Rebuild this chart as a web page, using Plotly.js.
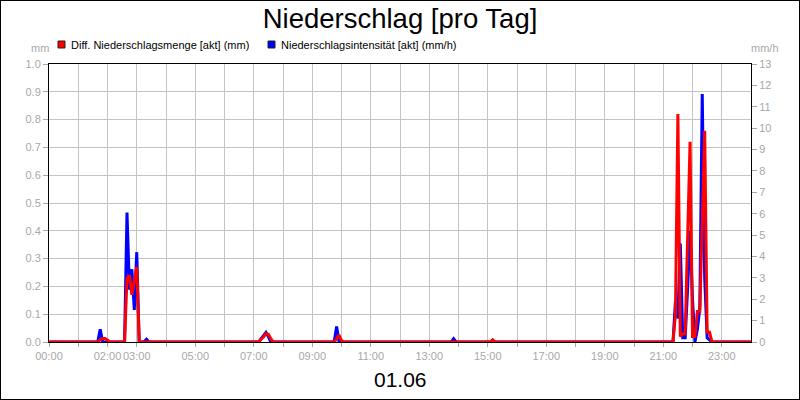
<!DOCTYPE html>
<html>
<head>
<meta charset="utf-8">
<script src="https://cdn.plot.ly/plotly-3.0.1.min.js"></script>
<style>
  html, body { margin: 0; padding: 0; background: #fff; }
  #wrap { position: relative; width: 800px; height: 400px; }
  #chart { width: 800px; height: 400px; }
  #frame { position: absolute; left: 0; top: 0; width: 800px; height: 400px; box-sizing: border-box; border: 1px solid #000; pointer-events: none; }
</style>
</head>
<body>
<div id="wrap"><div id="chart"></div><div id="frame"></div></div>
<script>
// Diff. Niederschlagsmenge [akt] (mm) - left axis
const redTimes = ["00:00","01:40","01:45","01:50","01:55","02:00","02:05","02:35","02:40","02:45","02:50","02:55","03:00","03:05",
  "07:10","07:15","07:20","07:25","07:30","07:35","07:40",
  "09:45","09:50","09:55","10:00","10:05",
  "15:05","15:10","15:15",
  "21:20","21:25","21:30","21:35","21:40","21:45","21:50","21:55","22:00","22:05","22:10","22:15","22:20","22:25","22:30","22:35","22:40","24:00"];
const redValues = [0,0,0.008,0.013,0.013,0.006,0,0,0.23,0.24,0.17,0.22,0.27,0,
  0,0.01,0.018,0.03,0.028,0.012,0,
  0,0.015,0.025,0.005,0,
  0,0.008,0,
  0,0.1,0.82,0.02,0.03,0.03,0.36,0.72,0.02,0.02,0.11,0.11,0.43,0.76,0.035,0.035,0,0];

// Niederschlagsintensität [akt] (mm/h) - right axis
const blueTimes = ["00:00","01:40","01:45","01:50","02:35","02:40","02:45","02:50","02:55","03:00","03:05","03:15","03:20","03:25",
  "07:10","07:15","07:20","07:25","07:30","07:35",
  "09:45","09:50","09:55",
  "13:45","13:50","13:55",
  "21:20","21:25","21:30","21:35","21:40","21:45","21:50","21:55","22:00","22:05","22:10","22:15","22:20","22:25","22:30","22:35","22:40","24:00"];
const blueValues = [0,0,0.6,0,0,6.05,2.45,3.4,1.5,4.2,0,0,0.13,0,
  0,0.15,0.3,0.45,0.25,0,
  0,0.72,0,
  0,0.15,0,
  0,1.9,1.1,4.6,0.2,0.2,2.5,5.2,2.0,0,0.6,1.6,11.6,3,0.2,0.1,0,0];

const hourTicks = [0,1,2,3,4,5,6,7,8,9,10,11,12,13,14,15,16,17,18,19,20,21,22,23];
const hourLabels = ["00:00","","02:00","03:00","","05:00","","07:00","","09:00","","11:00","","13:00","","15:00","","17:00","","19:00","","21:00","","23:00"];

const redName = "Diff. Niederschlagsmenge [akt] (mm)";
const blueName = "Niederschlagsintensität [akt] (mm/h)";
const titleText = "Niederschlag [pro Tag]";
const dateText = "01.06";

function toHours(s) { const p = s.split(":"); return Number(p[0]) + Number(p[1]) / 60; }

const FONT = "Arial, 'Liberation Sans', sans-serif";
const GRAY = "#a8a8a8";

// blue on the base axis (right side), red on the overlay axis (left side) so red is drawn on top
const traces = [
  { x: blueTimes.map(toHours), y: blueValues, yaxis: "y", type: "scatter", mode: "lines",
    line: { color: "#0000ff", width: 3 }, name: blueName, showlegend: false, hoverinfo: "skip" },
  { x: redTimes.map(toHours), y: redValues, yaxis: "y2", type: "scatter", mode: "lines",
    line: { color: "#ff0000", width: 3 }, name: redName, showlegend: false, hoverinfo: "skip" }
];

const W = 702, H = 278, L = 49, T = 64;
const px = v => (v - L) / W;
const py = v => (T + H - v) / H;

const layout = {
  width: 800, height: 400,
  margin: { l: 49, r: 49, t: 64, b: 58 },
  paper_bgcolor: "#fff", plot_bgcolor: "#fff",
  font: { family: FONT, size: 11, color: "#000" },
  title: { text: titleText, font: { family: FONT, size: 27.5, color: "#000" }, x: 0.5, xanchor: "center", yref: "container", y: 0.955, yanchor: "middle" },
  showlegend: false,
  xaxis: {
    range: [0, 24], tickmode: "array", tickvals: hourTicks, ticktext: hourLabels, tickangle: 0,
    showgrid: true, gridcolor: "#c4c4c4", gridwidth: 1,
    ticks: "outside", ticklen: 4, tickcolor: GRAY, tickfont: { family: FONT, size: 11, color: GRAY },
    showline: true, linecolor: "#000", linewidth: 1, mirror: true, zeroline: false, fixedrange: true
  },
  yaxis: {
    range: [0, 13], dtick: 1, tick0: 0, side: "right",
    showgrid: false, zeroline: false,
    showline: true, linecolor: "#000", linewidth: 1, mirror: true,
    ticks: "outside", ticklen: 5, tickcolor: GRAY, tickfont: { family: FONT, size: 11, color: GRAY }, fixedrange: true
  },
  yaxis2: {
    range: [0, 1], dtick: 0.1, tick0: 0, tickformat: ".1f", overlaying: "y", side: "left",
    showgrid: true, gridcolor: "#c4c4c4", gridwidth: 1,
    ticks: "outside", ticklen: 5, tickcolor: GRAY, tickfont: { family: FONT, size: 11, color: GRAY },
    showline: false, zeroline: false, fixedrange: true
  },
  shapes: [
    { type: "rect", xref: "paper", yref: "paper", x0: px(58), x1: px(65), y0: py(48), y1: py(41), fillcolor: "#ff0000", line: { color: "#222", width: 1 } },
    { type: "rect", xref: "paper", yref: "paper", x0: px(268), x1: px(275), y0: py(48), y1: py(41), fillcolor: "#0000ff", line: { color: "#222", width: 1 } }
  ],
  annotations: [
    { text: redName, xref: "paper", yref: "paper", x: px(69), y: py(44.5), xanchor: "left", yanchor: "middle", showarrow: false, font: { family: FONT, size: 11, color: "#000" } },
    { text: blueName, xref: "paper", yref: "paper", x: px(279), y: py(44.5), xanchor: "left", yanchor: "middle", showarrow: false, font: { family: FONT, size: 11, color: "#000" } },
    { text: "mm", xref: "paper", yref: "paper", x: px(40), y: py(48), xanchor: "center", yanchor: "middle", showarrow: false, font: { family: FONT, size: 11, color: GRAY } },
    { text: "mm/h", xref: "paper", yref: "paper", x: px(765), y: py(48), xanchor: "center", yanchor: "middle", showarrow: false, font: { family: FONT, size: 11, color: GRAY } },
    { text: dateText, xref: "paper", yref: "paper", x: 0.5, y: py(379), xanchor: "center", yanchor: "middle", showarrow: false, font: { family: FONT, size: 21, color: "#000" } }
  ]
};

Plotly.newPlot("chart", traces, layout, { staticPlot: true, displayModeBar: false });
</script>
</body>
</html>
